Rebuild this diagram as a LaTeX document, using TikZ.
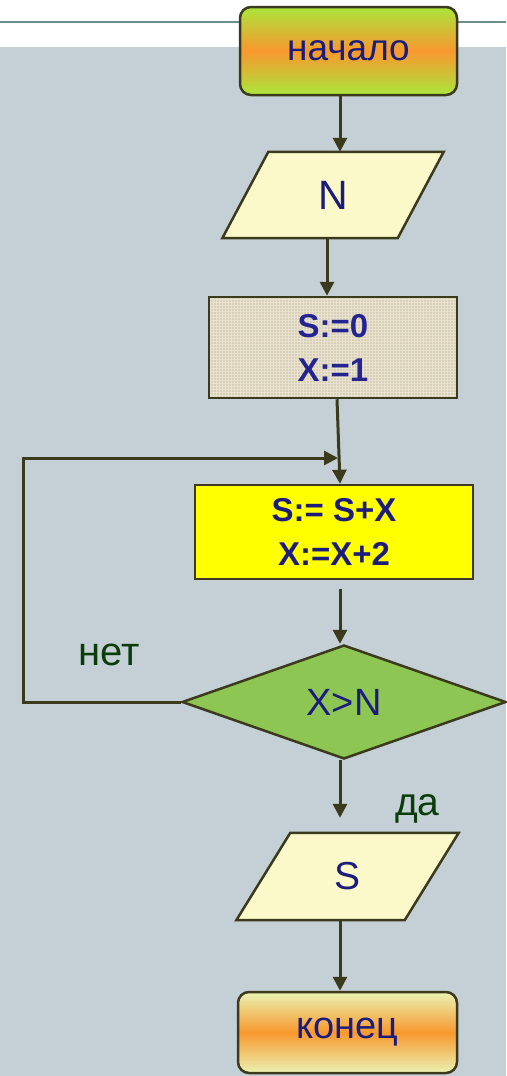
\documentclass[tikz,border=0pt]{standalone}
\usepackage{fontspec}
\setmainfont{Liberation Sans}
\usetikzlibrary{shapes.geometric,arrows.meta,patterns,calc,backgrounds}
\definecolor{bgc}{HTML}{C5D0D6}
\definecolor{topline}{HTML}{6E8C8C}
\definecolor{lc}{HTML}{3B3A1C}
\definecolor{navy}{HTML}{1C1C7C}
\definecolor{boxtxt}{HTML}{24248E}
\definecolor{lbl}{HTML}{0B3D0B}
\definecolor{lime}{HTML}{ABE63C}
\definecolor{pale}{HTML}{EAF4B4}
\definecolor{orng}{HTML}{F8982E}
\definecolor{iofill}{HTML}{FBF9C9}
\definecolor{beige}{HTML}{D9CFB6}
\definecolor{beigel}{HTML}{E8E2D0}
\definecolor{yel}{HTML}{FFFF00}
\definecolor{grn}{HTML}{8EC653}
\begin{document}
\begin{tikzpicture}[x=1pt,y=-1pt,
  term/.style={draw=lc, line width=2.5pt, rounded corners=11pt, inner sep=0pt, text=navy},
  iotext/.style={inner sep=0pt, text=navy, font=\fontsize{41}{41}\selectfont},
  iobox/.style={draw=lc, line width=2.5pt, fill=iofill},
  procbox/.style={draw=lc, line width=2.5pt, inner sep=0pt, align=center, text=boxtxt, font=\fontsize{33}{44}\selectfont\bfseries},
  arr/.style={draw=lc, line width=3pt, -{Triangle[width=14pt,length=14pt]}},
  lbltext/.style={text=lbl, inner sep=0pt, font=\fontsize{40}{40}\selectfont}]
\useasboundingbox (0,0) rectangle (506,1076);
\begin{scope}[on background layer]
  \fill[white] (0,0) rectangle (506,47);
  \fill[bgc] (0,47) rectangle (506,1076);
  \draw[topline, line width=2pt] (0,22) -- (506,22);
\end{scope}

% nodes
\node[term, minimum width=217pt, minimum height=88pt, top color=lime, bottom color=lime, middle color=orng,
      font=\fontsize{37}{37}\selectfont] (start) at (348.5,51) {начало};
\node[iotext, minimum width=175pt, minimum height=86pt] (N) at (333,195) {N};
\node[procbox, minimum width=248pt, minimum height=101pt,
      preaction={fill=beige}, pattern=grid, pattern color=beigel] (init) at (333,347.5) {S:=0\\X:=1};
\node[procbox, minimum width=278pt, minimum height=94pt, fill=yel, text=navy] (body) at (334,532) {S:= S+X\\X:=X+2};
\node[diamond, draw=lc, line width=2.5pt, fill=grn, aspect=2.84, minimum width=324pt, minimum height=114pt,
      inner sep=0pt, text=navy, font=\fontsize{38}{38}\selectfont] (dec) at (344,702) {X>N};
\node[iotext, minimum width=168pt, minimum height=87pt, font=\fontsize{39}{39}\selectfont] (S) at (347.5,876.5) {S};
\node[term, minimum width=219pt, minimum height=81pt, top color=pale, bottom color=pale, middle color=orng,
      font=\fontsize{38}{38}\selectfont] (end) at (347.5,1032.5) {конец};

\node[lbltext, anchor=base west] (no) at (78,665) {нет};
\node[lbltext, anchor=base west, font=\fontsize{39}{39}\selectfont] (yes) at (395,815) {да};

% parallelograms behind their text
\begin{scope}[on background layer]
  \draw[iobox] ([xshift=23pt]N.north west) -- ([xshift=23pt]N.north east)
        -- ([xshift=-23pt]N.south east) -- ([xshift=-23pt]N.south west) -- cycle;
  \draw[iobox] ([xshift=27pt]S.north west) -- ([xshift=27pt]S.north east)
        -- ([xshift=-27pt]S.south east) -- ([xshift=-27pt]S.south west) -- cycle;
\end{scope}

% connectors
\coordinate (lc) at (23,458);
\coordinate (mj) at (338,458);
\draw[arr] ($(start.south)+(-8.5,0)$) -- ($(N.north)+(7,0)$);
\draw[arr] ($(N.south)+(-6,0)$) -- ($(init.north)+(-6,0)$);
\draw[arr] ($(init.south)+(4,0)$) -- ($(body.north)+(6,0)$);
\draw[arr] (dec.west) -| (lc) -- (mj);
\draw[arr] ($(body.south)+(6,9)$) -- ($(dec.north)+(-4,0)$);
\draw[arr] ($(dec.south)+(-4,0)$) -- ($(S.north)+(-7.5,-15)$);
\draw[arr] ($(S.south)+(-7.5,0)$) -- ($(end.north)+(-7.5,0)$);
\end{tikzpicture}
\end{document}
